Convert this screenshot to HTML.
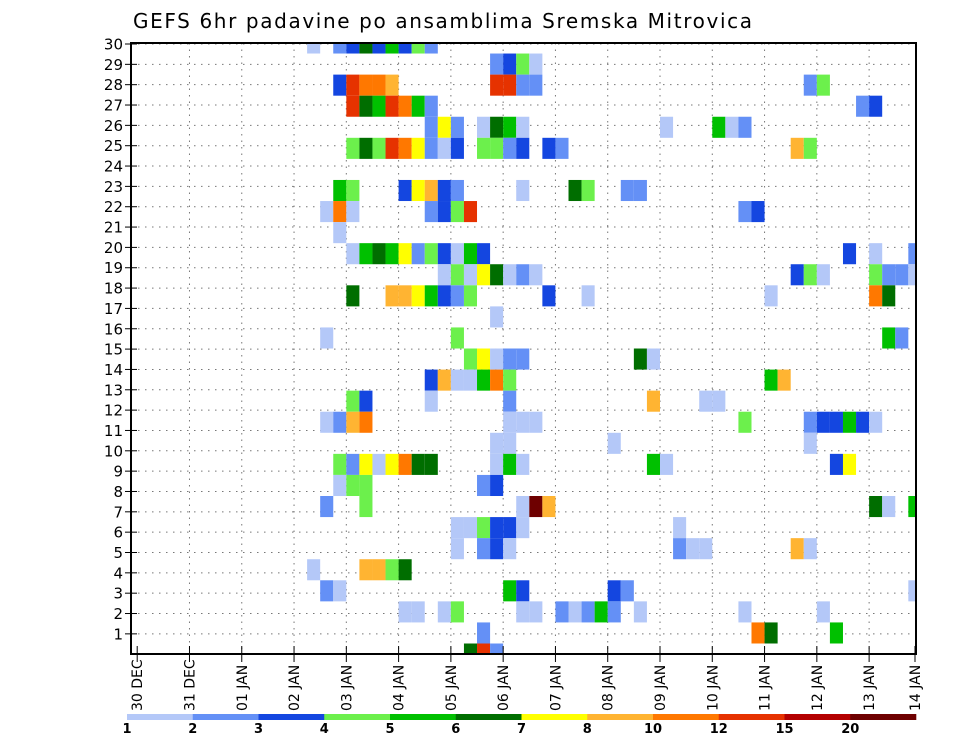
<!DOCTYPE html>
<html><head><meta charset="utf-8"><style>
html,body{margin:0;padding:0;background:#fff;}
svg{display:block;font-family:"DejaVu Sans","Liberation Sans",sans-serif;}
</style></head><body>
<svg id="chart" width="960" height="742" viewBox="0 0 960 742">
<text x="133" y="28" font-size="20" textLength="619" fill="#000">GEFS 6hr padavine po ansamblima Sremska Mitrovica</text>
<g id="grid"></g>
<g id="cells"></g>
<g id="axes"></g>
<g id="legend"></g>
</svg>
<script>
// ---- data ----
const dayLabels = ["30 DEC","31 DEC","01 JAN","02 JAN","03 JAN","04 JAN","05 JAN","06 JAN","07 JAN","08 JAN","09 JAN","10 JAN","11 JAN","12 JAN","13 JAN","14 JAN"];
const memberTicks = [1,2,3,4,5,6,7,8,9,10,11,12,13,14,15,16,17,18,19,20,21,22,23,24,25,26,27,28,29,30];
const levels = [1,2,3,4,5,6,7,8,10,12,15,20];
const levelColors = ["#b4c8f8","#6490f6","#1446e0","#6cf04c","#00c000","#006e00","#ffff00","#ffb432","#ff7800","#e63200","#b40000","#6e0000"];
// value per code (mm per 6h)
const codeValue = {a:1.5,b:2.5,c:3.5,d:4.5,e:5.5,f:6.5,g:7.5,h:9,i:11,j:13.5,k:17.5,l:25};
// members (30 = top) and their 6-hourly steps (step 0 = 30 DEC 00Z) with value codes
const members = [30,29,28,27,26,25,24,23,22,21,20,19,18,17,16,15,14,13,12,11,10,9,8,7,6,5,4,3,2,1];
const cells = [
"13a 15b 16c 17f 18c 19e 20c 21d 22b",
"27b 28c 29d 30a",
"15c 16j 17i 18i 19h 27j 28j 29b 30b 51b 52d",
"16j 17f 18e 19j 20i 21e 22b 55b 56c",
"22b 23g 24b 26a 27f 28e 29a 40a 44e 45a 46b",
"16d 17f 18d 19j 20i 21g 22b 23a 24c 26d 27d 28b 29c 31c 32b 50h 51d",
"",
"15e 16d 20c 21g 22h 23c 24b 29a 33f 34d 37b 38b",
"14a 15i 16a 22b 23c 24d 25j 46b 47c",
"15a",
"16a 17e 18f 19e 20g 21b 22d 23c 24a 25e 26c 54c 56a 59b",
"23a 24d 25a 26g 27f 28a 29b 30a 50c 51d 52a 56d 57b 58b 59a",
"16f 19h 20h 21g 22e 23c 24b 25d 31c 34a 48a 56i 57f",
"27a",
"14a 24d 57e 58b",
"25d 26g 27a 28b 29b 38f 39a",
"22c 23h 24a 25a 26e 27i 28d 48e 49h",
"16d 17c 22a 28b 39h 43a 44a",
"14a 15b 16h 17i 28a 29a 30a 46d 51b 52c 53c 54e 55c 56a",
"27a 28a 36a 51a",
"15d 16b 17g 18a 19g 20i 21f 22f 27a 28e 29a 39e 40a 53c 54g",
"15a 16d 17d 26b 27c",
"14b 17d 29a 30l 31h 56f 57a 59e",
"24a 25a 26d 27c 28c 29a 41a",
"24a 26b 27c 28a 41b 42a 43a 50h 51a",
"13a 17h 18h 19d 20f",
"14b 15a 28e 29c 36c 37b 59a",
"20a 21a 23a 24d 29a 30a 32b 33a 34b 35e 36b 38a 46a 52a",
"26b 47i 48f 53e",
"25f 26j 27b"
];
// ---- layout ----
const NS="http://www.w3.org/2000/svg";
const L=131, R=916, T=43, B=654;
const x0=137.2, stepW=13.07;
function xStep(s){return x0+s*stepW;}
function xDay(d){return d===15?915:x0+d*4*stepW;}
function yLabel(m){return 44+(30-m)*20.34;}
function yCell(m){return T+(30-m)*21.07;}
const cellH=21.07;
function colorFor(v){let c=levelColors[0];for(let i=0;i<levels.length;i++){if(v>=levels[i])c=levelColors[i];}return c;}
function mk(tag,attrs,parent){const e=document.createElementNS(NS,tag);for(const k in attrs)e.setAttribute(k,attrs[k]);parent.appendChild(e);return e;}
const gGrid=document.getElementById('grid'),gCells=document.getElementById('cells'),gAxes=document.getElementById('axes'),gLeg=document.getElementById('legend');
// grid
memberTicks.forEach(m=>{
  const ln=mk('line',{x1:L,x2:R,y1:yLabel(m),y2:yLabel(m),stroke:'#777','stroke-width':1,'stroke-dasharray':'1.5,5.5'},gGrid);
  
  
});
dayLabels.forEach((d,i)=>{
  if(i===0||i===15)return;
  const ln=mk('line',{x1:xDay(i),x2:xDay(i),y1:T,y2:B,stroke:'#777','stroke-width':1,'stroke-dasharray':'1.5,5'},gGrid);
  
  
});
// cells
members.forEach((m,mi)=>{
  const str=cells[mi].trim();
  if(!str)return;
  str.split(/\s+/).forEach(tok=>{
    const s=parseInt(tok,10), code=tok.replace(/[0-9]/g,''), v=codeValue[code];
    let xa=xStep(s), xb=xStep(s+1);
    xb=Math.min(xb,R);
    let ya=yCell(m)-cellH/2, yb=yCell(m)+cellH/2;
    ya=Math.max(ya,T); yb=Math.min(yb,B);
    const r=mk('rect',{x:xa.toFixed(2),y:ya.toFixed(2),width:(xb-xa).toFixed(2),height:(yb-ya).toFixed(2),fill:colorFor(v)},gCells);
    
    
  });
});
// frame
const fr=mk('rect',{x:L,y:T,width:R-L,height:B-T,fill:'none',stroke:'#000','stroke-width':2},gAxes);


// y ticks + labels
memberTicks.forEach(m=>{
  const y=yLabel(m);
  const tk=mk('line',{x1:125,x2:137,y1:y,y2:y,stroke:'#000','stroke-width':1},gAxes);
  
  
  const t=mk('text',{x:123,y:y+5.5,'font-size':15,'text-anchor':'end',fill:'#000'},gAxes);
  t.textContent=m;
  
  
});
// x ticks + labels
dayLabels.forEach((d,i)=>{
  const x=xDay(i);
  const tk=mk('line',{x1:x,x2:x,y1:B-8,y2:B+8,stroke:'#000','stroke-width':1},gAxes);
  
  
  const t=mk('text',{x:0,y:0,'font-size':14,transform:'translate('+(x+5)+',711) rotate(-90)',fill:'#000'},gAxes);
  t.textContent=d;
  
  
});
// legend bar
const lx0=127, lx1=916, segW=(lx1-lx0)/levels.length;
levels.forEach((lv,i)=>{
  const r=mk('rect',{x:lx0+i*segW,y:714,width:segW+0.3,height:6,fill:levelColors[i]},gLeg);
  
  
  const t=mk('text',{x:lx0+i*segW,y:733,'font-size':13,'font-weight':'bold','text-anchor':'middle',fill:'#000'},gLeg);
  t.textContent=lv;
  
  
});
</script>
</body></html>
